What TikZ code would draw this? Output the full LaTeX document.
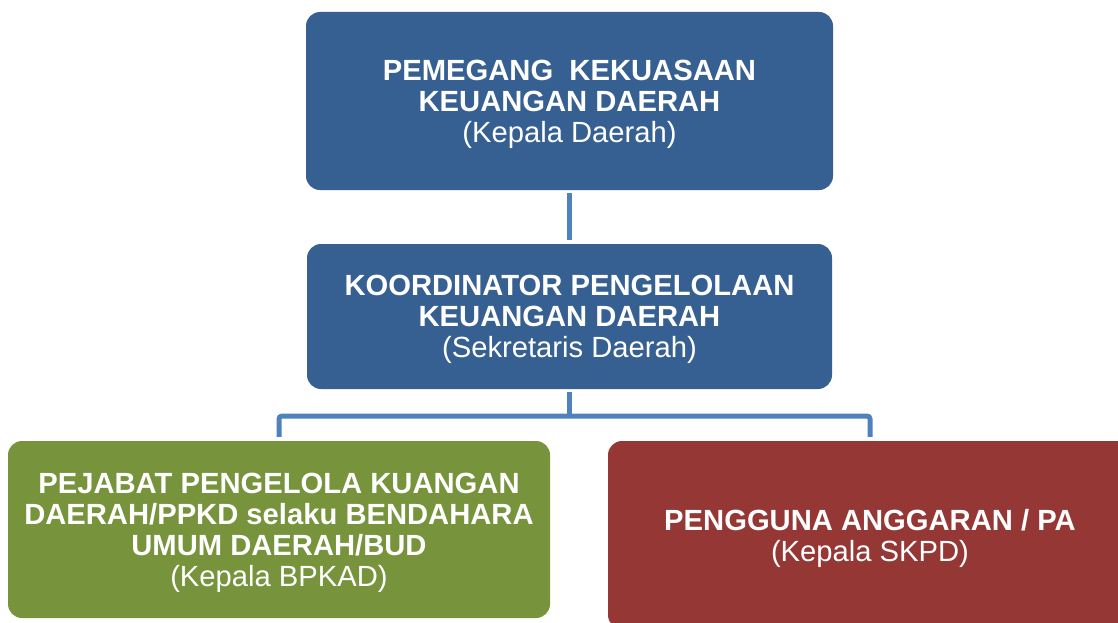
\documentclass[tikz,border=0pt]{standalone}
\usepackage{fontspec}
\setmainfont{Liberation Sans}
\definecolor{boxblue}{HTML}{376092}
\definecolor{boxgreen}{HTML}{77933C}
\definecolor{boxred}{HTML}{953735}
\definecolor{linkblue}{HTML}{4F81BD}
\begin{document}
\begin{tikzpicture}[x=1pt,y=-1pt,
  orgbox/.style={rounded corners=14pt, inner sep=0pt, align=center, text=white,
    font=\fontsize{29.2}{31}\selectfont},
  boxtext/.style={align=center, text=white, font=\fontsize{29.2}{31}\selectfont,
    yshift=-3pt},
  link/.style={draw=linkblue, line width=5pt}]
\useasboundingbox (0,0) rectangle (1118,623);
\clip (0,0) rectangle (1118,623);

% hierarchy boxes
\node[orgbox, fill=boxblue, minimum width=527pt, minimum height=178pt,
  label={[boxtext]center:{\textbf{PEMEGANG\ \ KEKUASAAN}\\\textbf{KEUANGAN DAERAH}\\(Kepala Daerah)}}]
  (pkkd) at (569.5,101) {};
\node[orgbox, fill=boxblue, minimum width=525pt, minimum height=145pt,
  label={[boxtext]center:{\textbf{KOORDINATOR PENGELOLAAN}\\\textbf{KEUANGAN DAERAH}\\(Sekretaris Daerah)}}]
  (kpkd) at (569.5,316.5) {};
\node[orgbox, fill=boxgreen, minimum width=542pt, minimum height=177pt,
  label={[boxtext]center:{\textbf{PEJABAT PENGELOLA KUANGAN}\\\textbf{DAERAH/PPKD selaku BENDAHARA}\\\textbf{UMUM DAERAH/BUD}\\(Kepala BPKAD)}}]
  (ppkd) at (279,529.5) {};
\node[orgbox, fill=boxred, minimum width=524pt, minimum height=188pt,
  label={[boxtext]center:{\textbf{PENGGUNA ANGGARAN / PA}\\(Kepala SKPD)}}]
  (pa) at (870,535) {};

% connectors
\coordinate (bar) at (0,416);
\draw[link, shorten <=3pt, shorten >=4pt] (pkkd.south) -- (kpkd.north);
\draw[link, shorten <=3pt] (kpkd.south) -- (kpkd.south |- bar);
\draw[link, rounded corners=3pt, shorten <=4pt, shorten >=4pt]
  (ppkd.north) |- (kpkd.south |- bar) -| (pa.north);
\end{tikzpicture}
\end{document}
